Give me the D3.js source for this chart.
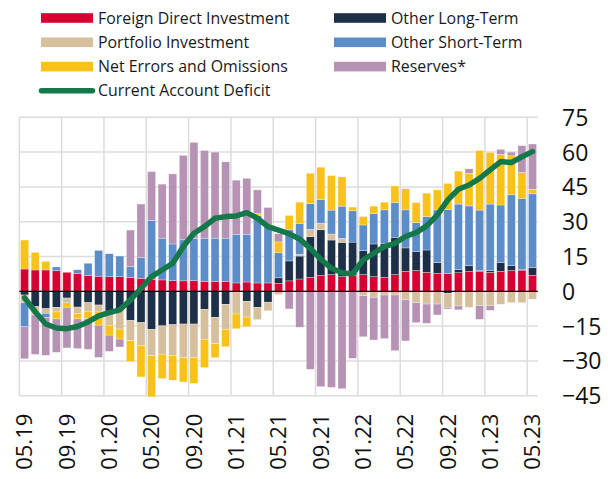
<!DOCTYPE html>
<html>
<head>
<meta charset="utf-8">
<script src="https://cdn.jsdelivr.net/npm/d3@7"></script>
<style>
  html, body { margin: 0; padding: 0; background: #fff; }
  svg { display: block; font-family: "Open Sans", "Noto Sans", sans-serif; }
</style>
</head>
<body>
<svg id="chart" width="608" height="479"></svg>
<script>
// Monthly categories
const months = [
  "05.19","06.19","07.19","08.19","09.19","10.19","11.19","12.19",
  "01.20","02.20","03.20","04.20","05.20","06.20","07.20","08.20",
  "09.20","10.20","11.20","12.20","01.21","02.21","03.21","04.21",
  "05.21","06.21","07.21","08.21","09.21","10.21","11.21","12.21",
  "01.22","02.22","03.22","04.22","05.22","06.22","07.22","08.22",
  "09.22","10.22","11.22","12.22","01.23","02.23","03.23","04.23",
  "05.23"
];
const xTickLabels = ["05.19","09.19","01.20","05.20","09.20","01.21","05.21",
                     "09.21","01.22","05.22","09.22","01.23","05.23"];
const yTicks = [-45, -30, -15, 0, 15, 30, 45, 60, 75];

// Financing components
const fdi = [9.6,9.2,9.2,8.9,8.2,7.6,6.8,6.5,6.3,6.3,5.9,5.6,5.2,4.9,4.6,4.5,
  4.6,4.2,4.2,4.2,3.6,4.0,3.6,3.6,3.4,4.5,5.3,6.0,6.8,7.2,6.3,6.8,
  7.2,6.3,6.0,7.2,8.6,8.9,8.2,7.8,7.6,8.0,8.5,8.6,8.2,8.6,8.9,9.1,6.9];
const otherLong = [-1.6,-6.6,-7.5,-6.9,-2.9,-6.8,-4.9,-5.9,-8.6,-8.3,-12.6,-13.5,-16.4,-14.9,-14.4,-14.1,
  -14.1,-7.8,-11.2,-5.6,-0.3,-4.3,-6.9,-4.7,2.4,8.6,9.9,17.5,19.7,14.9,14.8,14.4,
  10.3,14.1,14.7,16.1,10.1,8.2,9.6,4.6,-0.9,1.4,2.6,0.3,0.7,3.9,2.2,0.3,3.3];
const portfolio = [-3.4,-3.6,-2.0,-2.0,-1.4,-2.7,-3.7,-3.0,-6.0,-8.0,-8.6,-9.9,-11.4,-12.2,-13.4,-14.5,
  -14.4,-12.9,-11.4,-10.8,-9.5,-6.8,-5.3,-3.7,-1.4,0,0.7,3.2,2.9,2.6,1.7,0,
  -1.9,-2.6,-1.6,-1.6,-3.7,-4.9,-5.5,-5.5,-6.0,-6.3,-6.9,-6.2,-6.2,-5.6,-4.9,-4.9,-3.4];
const otherShort = [-10.3,0,-1.7,1.6,-0.6,1.7,5.3,11.1,9.9,8.9,4.7,8.9,25.3,18.0,15.8,17.7,
  18.2,18.7,18.7,18.7,21.0,20.6,29.0,25.0,10.8,13.4,13.4,11.1,10.2,10.3,13.9,13.5,
  11.1,13.1,14.4,14.9,16.4,12.5,14.4,22.7,27.7,28.2,25.7,26.1,28.7,24.7,30.5,30.7,31.8];
const errors = [12.5,7.6,3.7,-3.0,-2.0,-2.4,-3.2,-5.7,-4.3,-4.3,-9.1,-13.5,-17.7,-10.5,-10.5,-10.5,
  -11.2,-12.2,-6.0,-7.5,-6.3,-4.2,1.0,0,4.7,6.2,9.1,13.1,13.9,14.9,12.6,1.6,
  3.6,3.2,3.3,7.2,9.1,8.6,10.1,8.6,11.2,14.2,14.1,25.7,22.3,21.8,16.8,11.1,2.0];
const reserves = [-13.8,-17.0,-16.4,-14.4,-17.5,-12.8,-13.2,-13.9,-7.0,-3.4,15.8,23.1,21.1,23.3,30.2,36.4,
  41.4,37.8,37.1,32.9,23.3,24.1,10.1,7.5,3.5,-7.6,-15.5,-33.6,-41.1,-41.4,-42.0,-28.9,
  -17.7,-18.4,-18.8,-24.0,-17.7,-8.6,-8.3,-4.7,-0.7,-1.7,1.9,-5.9,-2.0,2.2,1.6,11.6,19.5];
const currentAccount = [-2.8,-8.8,-14.1,-15.8,-16.1,-15.2,-13.2,-10.6,-9.2,-8.0,-3.7,1.3,6.3,9.2,12.1,19.3,
  25.0,27.9,31.5,32.2,32.5,33.9,31.5,27.9,26.4,24.8,22.5,18.5,13.8,9.9,8.0,7.5,
  13.5,16.4,19.3,20.7,23.6,25.3,28.2,32.9,39.4,44.0,45.8,48.7,52.3,55.9,55.5,58.0,60.2];

// Series definitions (stack order from the zero line outward)
const seriesKeys = ["fdi","otherLong","portfolio","otherShort","errors","reserves"];
const seriesValues = { fdi, otherLong, portfolio, otherShort, errors, reserves };
const colors = {
  fdi: "#d60032",
  otherLong: "#1e3048",
  portfolio: "#d5bf9c",
  otherShort: "#5d8dc9",
  errors: "#f8c21a",
  reserves: "#b693b5"
};
const lineColor = "#14784a";

const rows = months.map((m, i) => {
  const r = { month: m };
  seriesKeys.forEach(k => { r[k] = seriesValues[k][i]; });
  return r;
});

const svg = d3.select("#chart");

const plotLeft = 19.3, plotRight = 537.8;
const x = d3.scaleBand().domain(months).range([plotLeft, plotRight]).paddingInner(0.24).paddingOuter(0.12);
const step = x.step();
const y = d3.scaleLinear().domain([-45, 75]).range([395.7, 117.3]);

// Grid
const grid = svg.append("g");
grid.selectAll("line.h").data(yTicks).join("line")
  .attr("x1", plotLeft).attr("x2", plotRight)
  .attr("y1", d => y(d)).attr("y2", d => y(d))
  .attr("stroke", "#dcdcdc").attr("stroke-width", 1.5);
grid.selectAll("line.v").data(xTickLabels).join("line")
  .attr("x1", d => x(d) - step * x.paddingInner() / 2)
  .attr("x2", d => x(d) - step * x.paddingInner() / 2)
  .attr("y1", y(75)).attr("y2", y(-45))
  .attr("stroke", "#dcdcdc").attr("stroke-width", 1.5);

// Stacked bars
const stack = d3.stack().keys(seriesKeys).offset(d3.stackOffsetDiverging);
const layers = stack(rows);
svg.append("g").selectAll("g").data(layers).join("g")
  .attr("fill", d => colors[d.key])
  .selectAll("rect").data(d => d).join("rect")
  .attr("x", d => x(d.data.month))
  .attr("width", x.bandwidth())
  .attr("y", d => y(Math.max(d[0], d[1])))
  .attr("height", d => Math.abs(y(d[0]) - y(d[1])))
  .attr("stroke", "#ffffff").attr("stroke-width", 0.5).attr("stroke-opacity", 0.6);

// Zero line
svg.append("line")
  .attr("x1", plotLeft).attr("x2", plotRight)
  .attr("y1", y(0)).attr("y2", y(0))
  .attr("stroke", "#000").attr("stroke-width", 1.2);

// Current account line
const line = d3.line()
  .x((d, i) => x(months[i]) + x.bandwidth() / 2)
  .y(d => y(d))
  .curve(d3.curveLinear);
svg.append("path").datum(currentAccount)
  .attr("d", line)
  .attr("fill", "none")
  .attr("stroke", lineColor)
  .attr("stroke-width", 5.5)
  .attr("stroke-linejoin", "round")
  .attr("stroke-linecap", "round");

// Y axis (right)
const yAxis = svg.append("g")
  .attr("transform", "translate(562,0)")
  .call(d3.axisRight(y).tickValues(yTicks).tickSize(0).tickPadding(0).tickFormat(d3.format("d")));
yAxis.select(".domain").remove();
yAxis.selectAll("text")
  .attr("font-family", "'Open Sans', sans-serif")
  .attr("font-size", 23).attr("fill", "#111").attr("dy", "0.35em");

// X axis (rotated labels)
const xAxis = svg.append("g")
  .attr("transform", `translate(0,${y(-45)})`)
  .call(d3.axisBottom(x).tickValues(xTickLabels).tickSize(0).tickPadding(0));
xAxis.select(".domain").remove();
xAxis.selectAll("text")
  .attr("font-family", "'Open Sans', sans-serif")
  .attr("font-size", 22).attr("fill", "#111")
  .attr("transform", "rotate(-90)")
  .attr("text-anchor", "end")
  .attr("x", -18).attr("y", 0).attr("dy", "0.35em");

// Legend
const legendItems = [
  { label: "Foreign Direct Investment", key: "fdi", col: 0, row: 0 },
  { label: "Portfolio Investment", key: "portfolio", col: 0, row: 1 },
  { label: "Net Errors and Omissions", key: "errors", col: 0, row: 2 },
  { label: "Current Account Deficit", key: "line", col: 0, row: 3 },
  { label: "Other Long-Term", key: "otherLong", col: 1, row: 0 },
  { label: "Other Short-Term", key: "otherShort", col: 1, row: 1 },
  { label: "Reserves*", key: "reserves", col: 1, row: 2 }
];
const colX = [41, 334];
const rowY = [18, 42.3, 66.6, 90.7];
const legend = svg.append("g");
legendItems.forEach(it => {
  const lx = colX[it.col], ly = rowY[it.row];
  if (it.key === "line") {
    legend.append("line")
      .attr("x1", lx + 0.5).attr("x2", lx + 51.5).attr("y1", ly).attr("y2", ly)
      .attr("stroke", lineColor).attr("stroke-width", 5.5).attr("stroke-linecap", "round");
  } else {
    legend.append("rect")
      .attr("x", lx).attr("y", ly - 4.8).attr("width", 52).attr("height", 9.6)
      .attr("fill", colors[it.key]);
  }
  legend.append("text")
    .attr("x", lx + 57).attr("y", ly).attr("dy", "0.35em")
    .attr("font-size", 15.9).attr("fill", "#1a1a1a")
    .text(it.label);
});
</script>
</body>
</html>
